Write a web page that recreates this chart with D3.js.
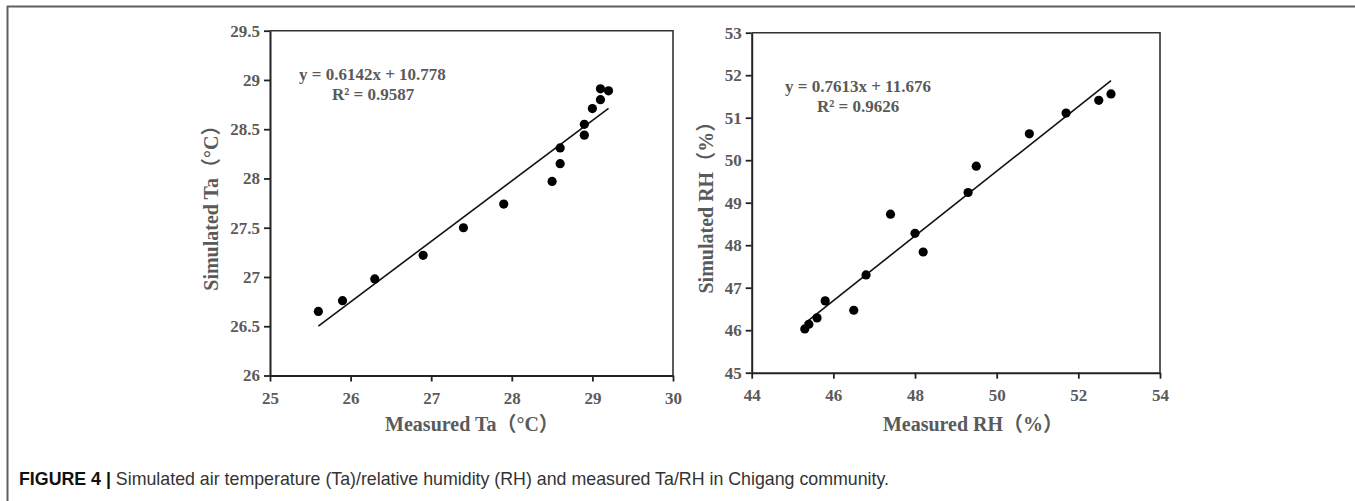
<!DOCTYPE html>
<html>
<head>
<meta charset="utf-8">
<script src="https://cdn.jsdelivr.net/npm/d3@7"></script>
<style>
  body { margin: 0; background: #fff; }
  svg { display: block; }
  .tickLabel { font-family: "Liberation Serif", serif; font-weight: bold; font-size: 17px; fill: #5a5a5a; }
  .axisTitle { font-family: "Liberation Serif", "Noto Sans CJK SC", serif; font-weight: bold; font-size: 20px; fill: #5a5a5a; }
  .eqText { font-family: "Liberation Serif", serif; font-weight: bold; font-size: 17px; fill: #5a5a5a; }
  .caption { font-family: "Liberation Sans", sans-serif; font-size: 17.8px; fill: #333; }
</style>
</head>
<body>
<svg id="chart" width="1355" height="501"></svg>
<script>
// data vars
const taMeasured = [25.6, 25.9, 26.3, 26.9, 27.4, 27.9, 28.5, 28.6, 28.6, 28.9, 28.9, 29.0, 29.1, 29.1, 29.2];
const taSimulated = [26.65, 26.76, 26.98, 27.22, 27.50, 27.74, 27.97, 28.15, 28.31, 28.44, 28.55, 28.71, 28.80, 28.91, 28.89];
const rhMeasured = [45.3, 45.4, 45.6, 45.8, 46.5, 46.8, 47.4, 48.0, 48.2, 49.3, 49.5, 50.8, 51.7, 52.5, 52.8];
const rhSimulated = [46.03, 46.14, 46.29, 46.69, 46.47, 47.30, 48.73, 48.28, 47.84, 49.24, 49.86, 50.62, 51.11, 51.41, 51.56];

const taXTicks = [25, 26, 27, 28, 29, 30];
const taYTicks = [26, 26.5, 27, 27.5, 28, 28.5, 29, 29.5];
const rhXTicks = [44, 46, 48, 50, 52, 54];
const rhYTicks = [45, 46, 47, 48, 49, 50, 51, 52, 53];

const taFit = { slope: 0.6142, intercept: 10.778 };
const rhFit = { slope: 0.7613, intercept: 11.676 };
const taEquation = ["y = 0.6142x + 10.778", "R² = 0.9587"];
const rhEquation = ["y = 0.7613x + 11.676", "R² = 0.9626"];

const svg = d3.select("#chart");

// figure frame (top + left rule)
svg.append("line")
  .attr("x1", 7).attr("y1", 6.5).attr("x2", 1355).attr("y2", 6.5)
  .attr("stroke", "#5f5f5f").attr("stroke-width", 2);
svg.append("line")
  .attr("x1", 7.5).attr("y1", 6).attr("x2", 7.5).attr("y2", 501)
  .attr("stroke", "#5f5f5f").attr("stroke-width", 2);

function scatterPanel(opts) {
  const x = d3.scaleLinear()
    .domain([opts.xTicks[0], opts.xTicks[opts.xTicks.length - 1]])
    .range([opts.left, opts.right]);
  const y = d3.scaleLinear()
    .domain([opts.yTicks[0], opts.yTicks[opts.yTicks.length - 1]])
    .range([opts.bottom, opts.top]);

  const g = svg.append("g");

  // top and right border
  g.append("path")
    .attr("d", `M${opts.left},${opts.top}H${opts.right}V${opts.bottom}`)
    .attr("fill", "none")
    .attr("stroke", "#333")
    .attr("stroke-width", 1.6);

  let xAxis = a => a
    .attr("transform", `translate(0, ${opts.bottom})`)
    .call(d3.axisBottom(x).tickValues(opts.xTicks).tickFormat(d => d).tickSize(6).tickPadding(10).tickSizeOuter(0))
    .call(a => a.select(".domain").attr("stroke", "#222").attr("stroke-width", 2))
    .call(a => a.selectAll(".tick line").attr("stroke", "#222").attr("stroke-width", 1.8))
    .call(a => a.selectAll(".tick text").attr("class", "tickLabel").attr("fill", null));

  let yAxis = a => a
    .attr("transform", `translate(${opts.left}, 0)`)
    .call(d3.axisLeft(y).tickValues(opts.yTicks).tickFormat(d => d).tickSize(6).tickPadding(4).tickSizeOuter(0))
    .call(a => a.select(".domain").attr("stroke", "#222").attr("stroke-width", 2))
    .call(a => a.selectAll(".tick line").attr("stroke", "#222").attr("stroke-width", 1.8))
    .call(a => a.selectAll(".tick text").attr("class", "tickLabel").attr("fill", null));

  g.append("g").call(xAxis);
  g.append("g").call(yAxis);

  // regression line
  const xs = d3.extent(opts.xs);
  g.append("line")
    .attr("x1", x(xs[0]))
    .attr("y1", y(opts.fit.slope * xs[0] + opts.fit.intercept))
    .attr("x2", x(xs[1]))
    .attr("y2", y(opts.fit.slope * xs[1] + opts.fit.intercept))
    .attr("stroke", "#111")
    .attr("stroke-width", 1.6);

  // points
  g.append("g")
    .selectAll("circle")
    .data(opts.xs.map((v, i) => ({ x: v, y: opts.ys[i] })))
    .join("circle")
    .attr("cx", d => x(d.x))
    .attr("cy", d => y(d.y))
    .attr("r", 4.6)
    .attr("fill", "#000");

  // equation
  g.append("text")
    .attr("class", "eqText")
    .attr("x", opts.eqX)
    .attr("y", opts.eqY)
    .text(opts.equation[0]);
  g.append("text")
    .attr("class", "eqText")
    .attr("x", opts.eqX2)
    .attr("y", opts.eqY + 20)
    .text(opts.equation[1]);

  // axis titles
  g.append("text")
    .attr("class", "axisTitle")
    .attr("text-anchor", "middle")
    .attr("x", opts.xTitleX)
    .attr("y", 431)
    .text(opts.xTitle);
  g.append("text")
    .attr("class", "axisTitle")
    .attr("text-anchor", "middle")
    .attr("transform", `translate(${opts.yTitleX}, ${(opts.top + opts.bottom) / 2}) rotate(-90)`)
    .text(opts.yTitle);
}

scatterPanel({
  left: 270, right: 673, top: 30.7, bottom: 375.5,
  xTicks: taXTicks, yTicks: taYTicks,
  xs: taMeasured, ys: taSimulated, fit: taFit,
  equation: taEquation, eqX: 299, eqX2: 332, eqY: 80,
  xTitle: "Measured Ta（°C）", xTitleX: 472,
  yTitle: "Simulated Ta（°C）", yTitleX: 218
});

scatterPanel({
  left: 751.7, right: 1160, top: 32.7, bottom: 372.7,
  xTicks: rhXTicks, yTicks: rhYTicks,
  xs: rhMeasured, ys: rhSimulated, fit: rhFit,
  equation: rhEquation, eqX: 785, eqX2: 817, eqY: 91.5,
  xTitle: "Measured RH（%）", xTitleX: 973,
  yTitle: "Simulated RH（%）", yTitleX: 713
});

// caption
const cap = svg.append("text")
  .attr("class", "caption")
  .attr("x", 19)
  .attr("y", 485);
cap.append("tspan").attr("font-weight", "bold").attr("fill", "#111").text("FIGURE 4 | ");
cap.append("tspan").text("Simulated air temperature (Ta)/relative humidity (RH) and measured Ta/RH in Chigang community.");
</script>
</body>
</html>
